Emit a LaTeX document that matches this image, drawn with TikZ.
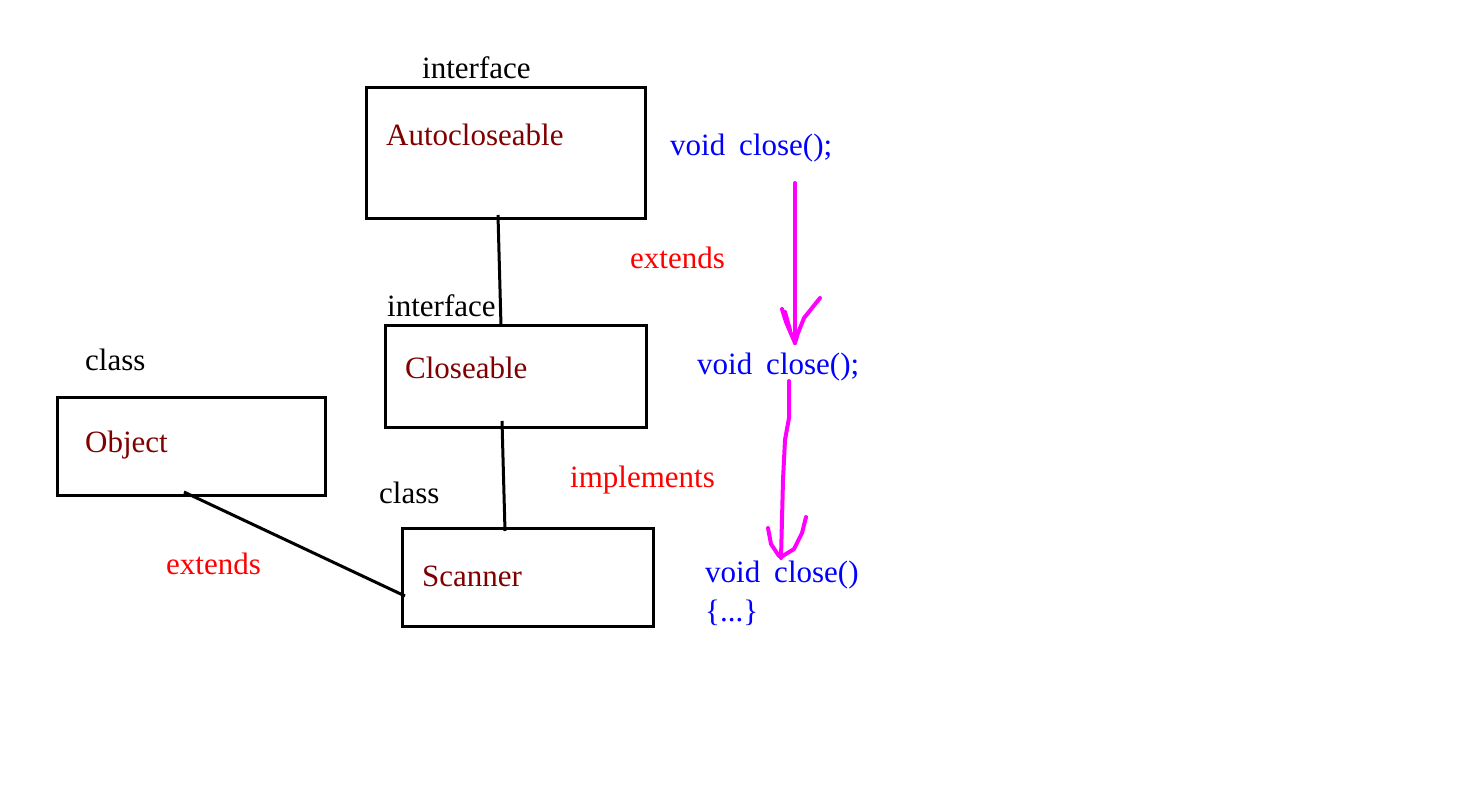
\documentclass[tikz,border=0pt]{standalone}
\usepackage{fontspec}
\setmainfont{Liberation Serif}
\definecolor{cname}{RGB}{128,0,0}
\definecolor{mag}{RGB}{255,0,255}
\tikzset{
  box/.style={draw=black, line width=3pt},
  txt/.style={anchor=west, inner sep=0pt, font=\fontsize{31}{37}\selectfont},
  cls/.style={txt, text=cname},
  lbl/.style={txt, text=black},
  rel/.style={txt, text=red},
  meth/.style={txt, text=blue},
  conn/.style={draw=black, line width=3pt},
  flow/.style={draw=mag, line width=4pt, line cap=round, line join=round}
}
\begin{document}
\begin{tikzpicture}[x=1pt,y=-1pt]
\useasboundingbox[fill=white] (0,0) rectangle (1481,795);
% boxes
\draw[box] (366,87) rectangle (645,218);
\draw[box] (385,325) rectangle (646,427);
\draw[box] (57,397) rectangle (325,495);
\draw[box] (402,528) rectangle (653,626);
% names
\node[cls] (auto) at (386,135) {Autocloseable};
\node[cls] (close) at (405,368) {Closeable};
\node[cls] (obj) at (85,445) {Object};
\node[cls] (scan) at (422,576) {Scanner};
% kind labels
\node[lbl] (k1) at (422,68) {interface};
\node[lbl] (k2) at (387,306) {interface};
\node[lbl] (k3) at (85,360) {class};
\node[lbl] (k4) at (379,493) {class};
% relation labels
\node[rel] (r1) at (630,258) {extends};
\node[rel] (r2) at (570,480) {implements};
\node[rel] (r3) at (166,564) {extends};
% methods
\node[meth] (m1) at (670,148) {void\hspace{0.45em}close();};
\node[meth] (m2) at (697,367) {void\hspace{0.45em}close();};
\node[meth] (m3) at (705,575) {void\hspace{0.45em}close()};
\node[meth] (m4) at (705,613) {\{...\}};
% connectors
\coordinate (a1) at (498,215);
\coordinate (c1) at (501,326);
\coordinate (c2) at (502,421);
\coordinate (s1) at (505,531);
\coordinate (o1) at (184,492);
\coordinate (s2) at (405,596);
\draw[conn] (a1) -- (c1);
\draw[conn] (c2) -- (s1);
\draw[conn] (o1) -- (s2);
% magenta arrows
\coordinate (f1s) at (795,183);
\coordinate (f1e) at (795,343);
\draw[flow] (f1s) -- (f1e);
\draw[flow] (782,309) -- (786,322) -- (795,343);
\draw[flow] (785,312) -- (790,330);
\draw[flow] (820,298) -- (804,318) -- (798,333) -- (795,343);
\coordinate (f2s) at (789,381);
\coordinate (f2e) at (781,558);
\draw[flow] (f2s) -- (789,418) -- (785,440) -- (783,480) -- (f2e);
\draw[flow] (768,528) -- (771,544) -- (779,556);
\draw[flow] (806,517) -- (802,533) -- (794,549) -- (781,557);
\end{tikzpicture}
\end{document}
